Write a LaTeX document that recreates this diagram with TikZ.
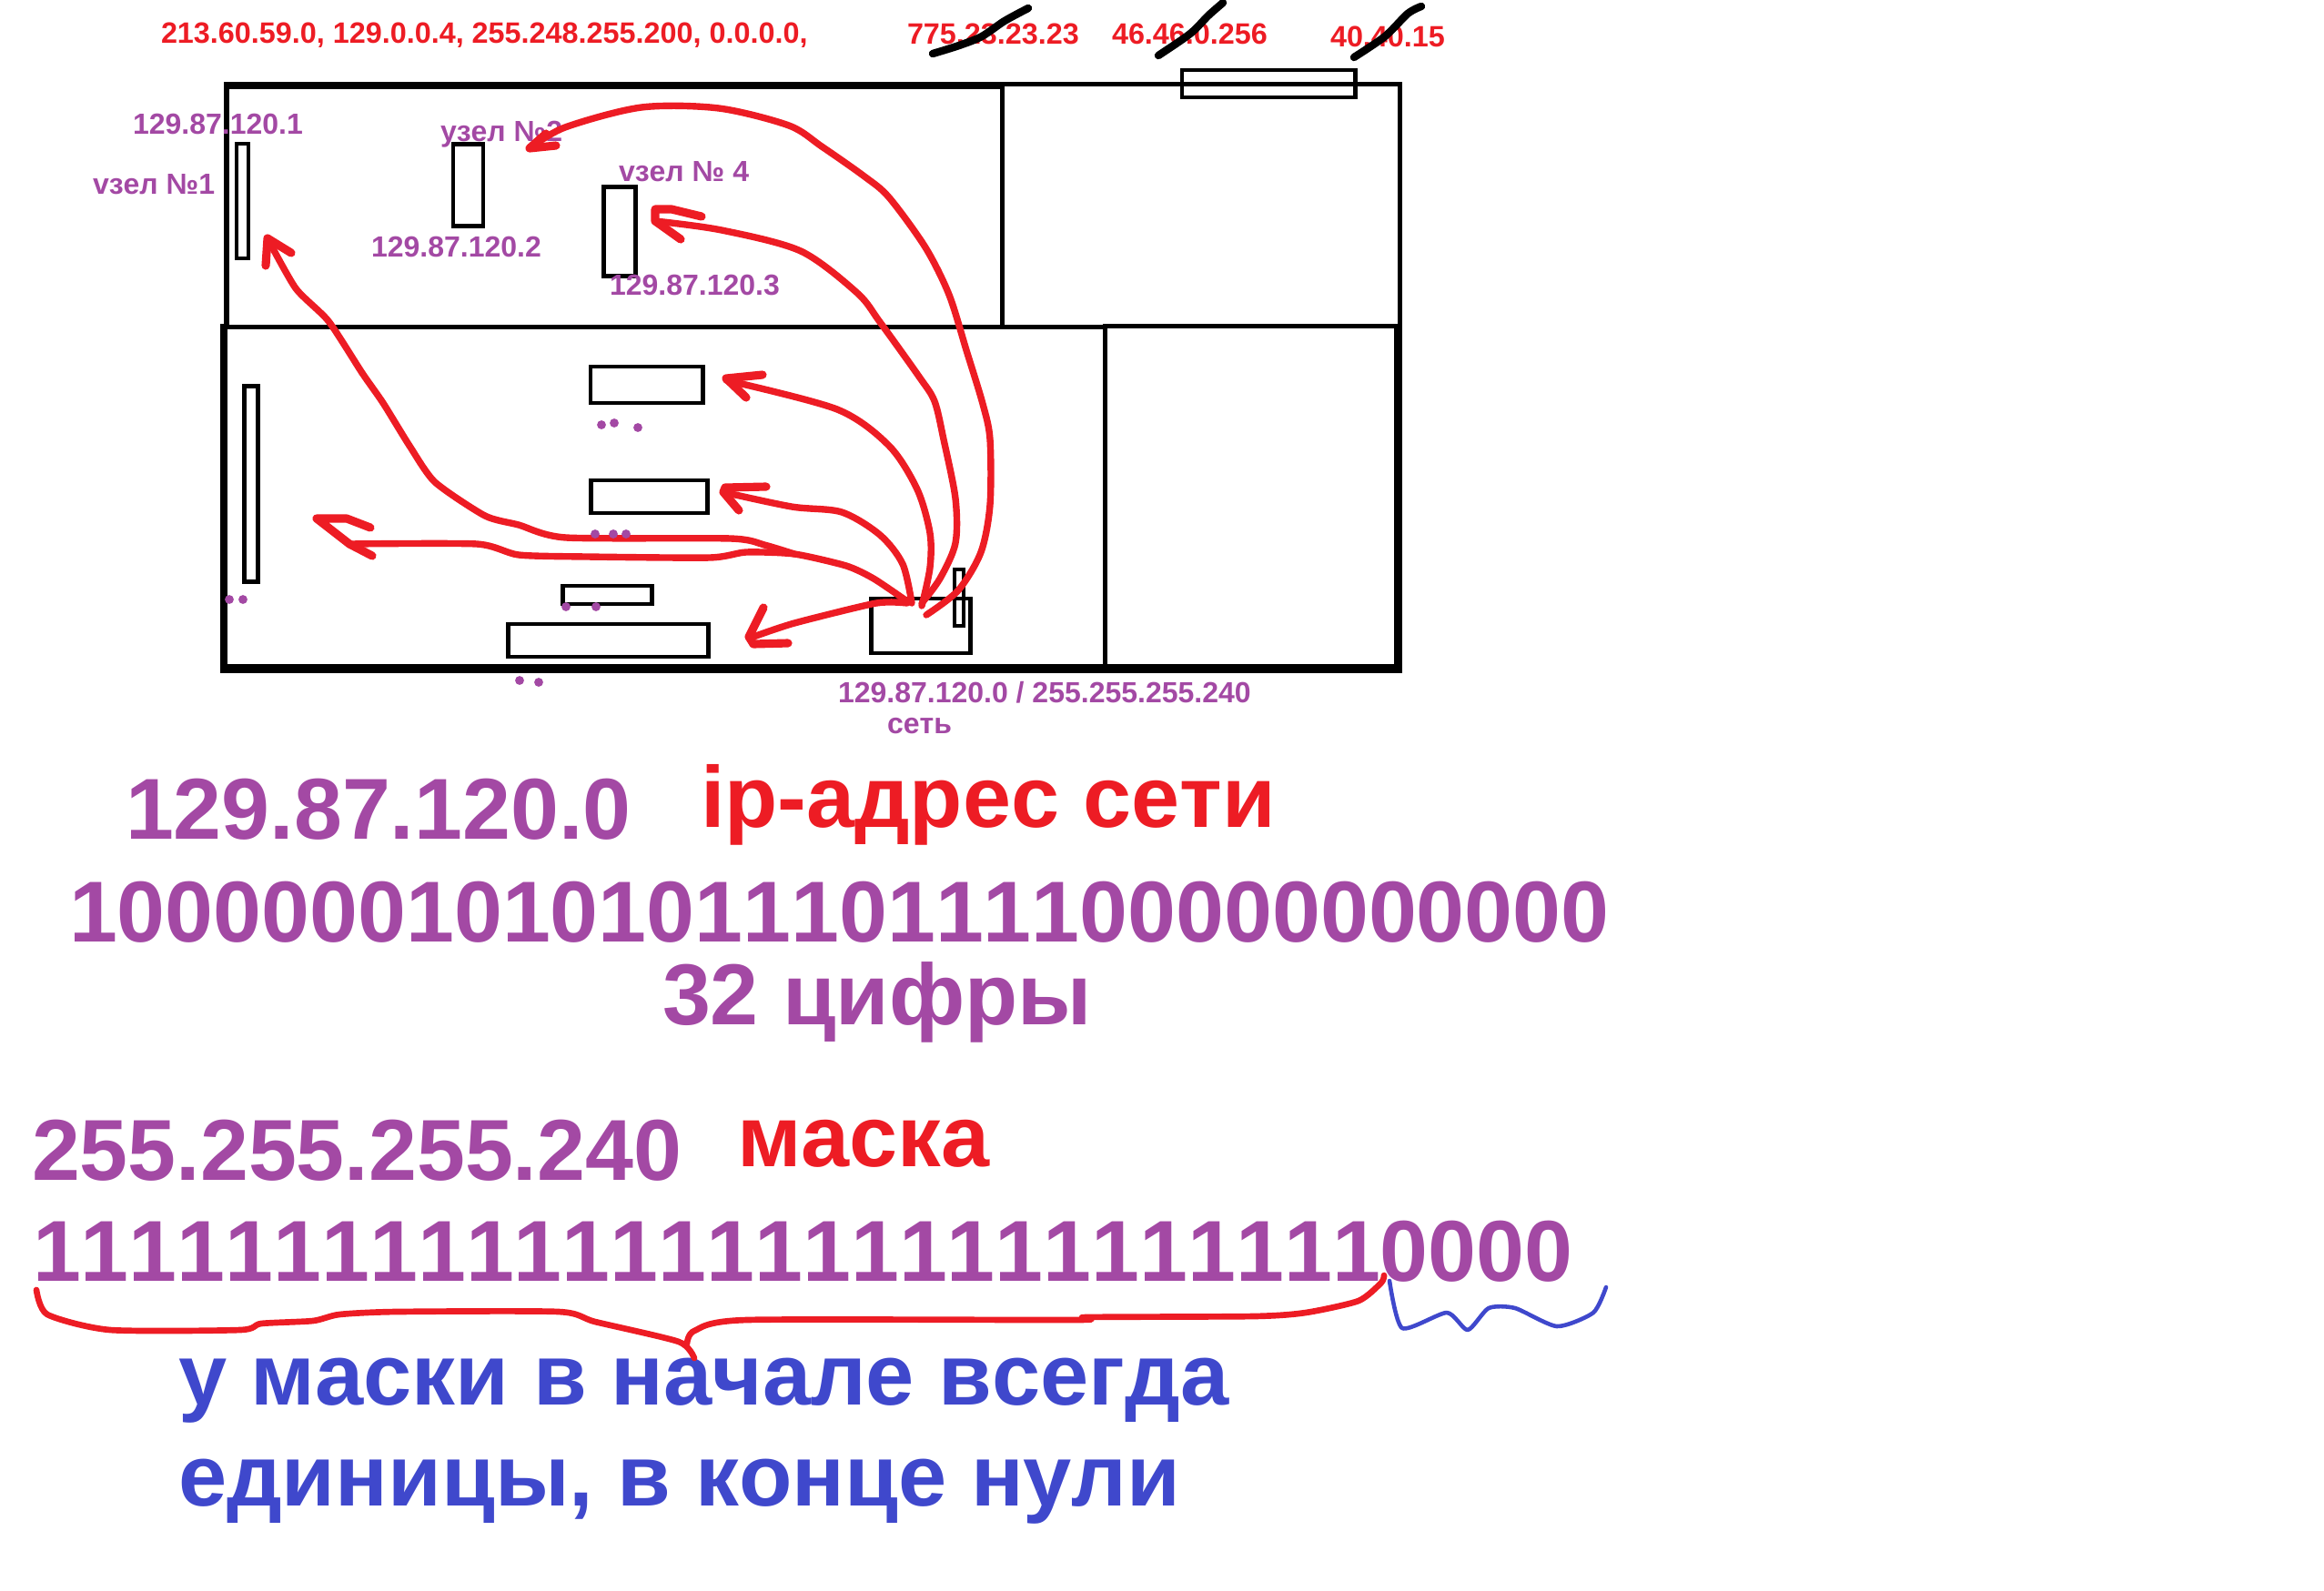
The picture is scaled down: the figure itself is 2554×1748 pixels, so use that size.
\documentclass[tikz,border=0pt]{standalone}
\usepackage{fontspec}
\setmainfont{Liberation Sans}[Kerning=Off]
\definecolor{paintred}{HTML}{ED1C24}
\definecolor{paintpurple}{HTML}{A349A4}
\definecolor{paintblue}{HTML}{3F48CC}
\begin{document}
\begin{tikzpicture}[
    x=0.01cm, y=-0.01cm, % one unit is one pixel of the sheet
    line cap=butt,
    wall/.style = {draw=black, line width=#1*0.2845pt},
    box/.style = {rectangle, draw=black, line width=1.4pt, inner sep=0pt, outer sep=0pt},
    txt/.style = {anchor=base west, inner sep=0pt, outer sep=0pt, font=\bfseries\fontsize{#1}{#1}\selectfont},
    ]
    \tikzstyle{small_purple} = [txt=9.1pt, text=paintpurple]
    \tikzstyle{small_red} = [txt=9.2pt, text=paintred]
    \tikzstyle{big_purple} = [txt=27.05pt, text=paintpurple]
    \tikzstyle{big_red} = [txt=27.1pt, text=paintred]
    \tikzstyle{big_blue} = [txt=27.2pt, text=paintblue]
    \tikzstyle{scribble} = [draw=paintred, line width=2.1pt, line cap=round, line join=round]
    \tikzstyle{scribble_head} = [draw=paintred, line width=2.6pt, line cap=round, line join=round]
    \tikzstyle{scratch} = [draw=black, line width=2.4pt, line cap=round, line join=round]
    \tikzstyle{brace_red} = [draw=paintred, line width=1.9pt, line cap=round, line join=round]
    \tikzstyle{brace_blue} = [draw=paintblue, line width=1.3pt, line cap=round, line join=round]
    \tikzstyle{dot} = [circle, fill=paintpurple, inner sep=0pt, minimum size=2.8pt]
    \useasboundingbox (0,0) rectangle (2554,1748);

    % walls
    \draw[wall=8] (249,94) -- (1104,94);
    \draw[wall=6] (249,90) -- (249,360);
    \draw[wall=5] (1101,92.5) -- (1541,92.5);
    \draw[wall=5] (1101.5,94) -- (1101.5,360);
    \draw[wall=5] (246,359.5) -- (1214,359.5);
    \draw[wall=5] (1212,358.5) -- (1541,358.5);
    \draw[wall=5] (1538.5,90) -- (1538.5,358);
    \draw[wall=9] (1536.5,356) -- (1536.5,740);
    \draw[wall=8] (246,356) -- (246,740);
    \draw[wall=10] (246,735) -- (1541,735);
    \draw[wall=5] (1214,358) -- (1214,735);

    \node[box, minimum width=13pt*0.2845, minimum height=126pt*0.2845] (host1) at (266.5,221) {};
    \node[box, minimum width=33pt*0.2845, minimum height=90pt*0.2845] (host2) at (514.5,203.5) {};
    \node[box, minimum width=35pt*0.2845, minimum height=98pt*0.2845] (host4) at (681,254.5) {};
    \node[box, minimum width=15pt*0.2845, minimum height=214pt*0.2845] (rack) at (276,532) {};
    \node[box, minimum width=123pt*0.2845, minimum height=40pt*0.2845] (deskA) at (710.5,423) {};
    \node[box, minimum width=128pt*0.2845, minimum height=36pt*0.2845] (deskB) at (713.5,546) {};
    \node[box, minimum width=98pt*0.2845, minimum height=20pt*0.2845] (deskC) at (667.5,654) {};
    \node[box, minimum width=220pt*0.2845, minimum height=36pt*0.2845] (deskD) at (668.5,704) {};
    \node[box, minimum width=108.5pt*0.2845, minimum height=60pt*0.2845] (hubbox) at (1011.75,688) {};
    \node[box, minimum width=10pt*0.2845, minimum height=62pt*0.2845] (plug) at (1054,657) {};
    \node[box, minimum width=190pt*0.2845, minimum height=30pt*0.2845] (door) at (1394,92) {};

    % top line
    \node[small_red] (addr) at (177,47) {213.60.59.0, 129.0.0.4, 255.248.255.200, 0.0.0.0,};
    \node[small_red] (bad1) at (997,48) {775.23.23.23};
    \node[small_red] (bad2) at (1222,48) {46.46.0.256};
    \node[small_red] (bad3) at (1462,51) {40.40.15};

    % room labels
    \node[small_purple] (ip1) at (146,147) {129.87.120.1};
    \node[small_purple] (name1) at (102,213) {vзел №1};
    \node[small_purple] (name2) at (484,155) {узел №2};
    \node[small_purple] (name4) at (680,199) {vзел № 4};
    \node[small_purple] (ip2) at (408,282) {129.87.120.2};
    \node[small_purple] (ip3) at (670,324) {129.87.120.3};
    \node[small_purple] (netip) at (921,772) {129.87.120.0 / 255.255.255.240};
    \node[small_purple] (netname) at (975,806) {сеть};

    % big lines
    \node[big_purple] (bigip) at (138,922) {129.87.120.0};
    \node[big_red] (bigipname) at (770,909) {ip-адрес сети};
    \node[big_purple] (bigbin) at (76,1035) {10000001010101110111100000000000};
    \node[big_purple] (bigcount) at (728,1126) {32 цифры};
    \node[big_purple] (bigmask) at (35,1297) {255.255.255.240};
    \node[big_red] (bigmaskname) at (810,1282) {маска};
    \node[big_purple] (maskbin) at (36,1408) {11111111111111111111111111110000};
    \node[big_blue] (note1) at (196,1544) {у маски в начале всегда};
    \node[big_blue] (note2) at (196,1655) {единицы, в конце нули};

    % arrows from the hub
    \coordinate (h1) at (1013,666);
    \coordinate (h2) at (1002,663);
    \coordinate (h3) at (1018,676);
    \coordinate (h4) at (1013,663);
    \coordinate (j1) at (873,609);
    \coordinate (t1) at (798,418);
    \coordinate (t2) at (795,541);
    \coordinate (t3) at (384,598);
    \coordinate (t4) at (294,262);
    \coordinate (t5) at (828,700);
    \coordinate (t6) at (720,243);
    \coordinate (t7) at (582,163);
    \draw[scribble] plot[smooth, tension=0.5] coordinates {(h1) (1022,624) (1022,586) (1008,538) (977,490) (920,450) (t1)};
    \draw[scribble_head] (838,412) -- (798,416) -- (820,437);
    \draw[scribble] plot[smooth, tension=0.5] coordinates {(h2) (992,620) (967,588) (925,563) (870,557) (t2)};
    \draw[scribble_head] (842,535) -- (797,536) -- (795,541) -- (812,561);
    \draw[scribble] plot[smooth, tension=0.4] coordinates {(997,661) (960,636) (930,622) (j1) (820,607) (780,613) (645,612) (570,610) (524,598) (t3)};
    \draw[scribble_head] (407,580) -- (381,570) -- (348,570) -- (t3) -- (409,611);
    \draw[scribble] plot[smooth, tension=0.4] coordinates {(j1) (840,599) (803,592) (622,591) (570,577) (533,567) (478,530) (450,490) (421,443) (398,410) (361,353) (325,317) (t4)};
    \draw[scribble_head] (320,278) -- (t4) -- (292,292);
    \draw[scribble] plot[smooth, tension=0.4] coordinates {(997,663) (963,663) (873,685) (t5)};
    \draw[scribble_head] (839,668) -- (823,700) -- (828,708) -- (866,707);
    \draw[scribble] plot[smooth, tension=0.5] coordinates {(h4) (1033,636) (1050,597) (1050,548) (1037,483) (1027,441) (1010,414) (967,354) (942,322) (880,276) (793,253) (t6)};
    \draw[scribble_head] (771,238) -- (738,230) -- (720,230) -- (t6) -- (748,263);
    \draw[scribble] plot[smooth, tension=0.5] coordinates {(h3) (1053,649) (1078,607) (1088,555) (1088,483) (1080,444) (1062,385) (1043,324) (1017,272) (977,217) (950,194) (903,161) (867,138) (790,119) (705,118) (621,140) (t7)};
    \draw[scribble_head] (611,160) -- (t7) -- (600,147);

    % crossed out
    \draw[scratch] plot[smooth] coordinates {(1025,59) (1054,50) (1079,40) (1104,23) (1130,9)};
    \draw[scratch] plot[smooth] coordinates {(1273,61) (1308,37) (1328,17) (1344,3)};
    \draw[scratch] plot[smooth] coordinates {(1488,63) (1522,40) (1547,15) (1562,7)};

    % dots
    \node[dot] (d1) at (661,467) {};
    \node[dot] (d2) at (675,465) {};
    \node[dot] (d3) at (701,470) {};
    \node[dot] (d4) at (654,587) {};
    \node[dot] (d5) at (674,587) {};
    \node[dot] (d6) at (688,587) {};
    \node[dot] (d7) at (252,659) {};
    \node[dot] (d8) at (267,659) {};
    \node[dot] (d9) at (622,667) {};
    \node[dot] (d10) at (655,667) {};
    \node[dot] (d11) at (571,748) {};
    \node[dot] (d12) at (592,750) {};

    % braces under the mask
    \draw[brace_red] plot[smooth, tension=0.4] coordinates {(40,1418) (52,1445) (121,1462) (264,1462) (287,1455) (344,1452) (373,1445) (436,1442) (614,1442) (654,1453) (746,1475) (763,1493)};
    \draw[brace_red] plot[smooth, tension=0.4] coordinates {(755,1477) (763,1463) (821,1451) (1183,1451) (1194,1448) (1378,1447) (1435,1443) (1493,1430) (1518,1410) (1521,1402)};
    \draw[brace_blue] plot[smooth, tension=0.4] coordinates {(1527,1408) (1541,1460) (1590,1443) (1613,1462) (1636,1438) (1665,1438) (1711,1458) (1751,1443) (1765,1415)};
\end{tikzpicture}
\end{document}
